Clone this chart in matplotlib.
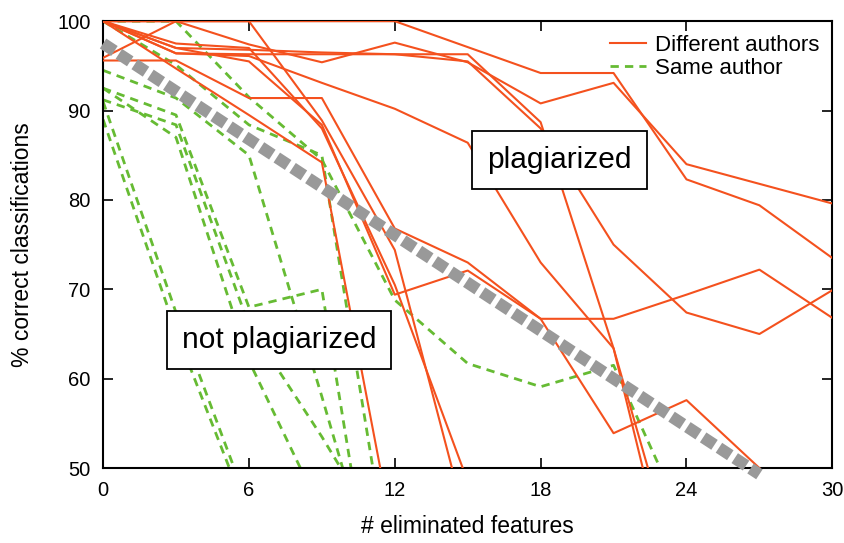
import numpy as np
import matplotlib
matplotlib.use("Agg")
import matplotlib.pyplot as plt

plt.rcParams['font.family'] = ['Liberation Sans', 'DejaVu Sans']

x_steps = [0, 3, 6, 9, 12, 15, 18, 21, 24, 27, 30]

# Different authors (values at x = 0,3,6,...; values below 50 are off-axis continuations)
diff_authors = [
    [100, 100, 100, 100, 100, 97.1, 94.2, 94.2, 82.3, 79.4, 73.5],
    [95.9, 100, 97.4, 95.4, 97.6, 95.4, 90.8, 93.1, 84.0, 81.8, 79.6],
    [100, 96.4, 96.3, 96.3, 96.3, 96.3, 88.7, 63.4, 30.0],
    [95.6, 95.6, 91.4, 91.4, 76.8, 73.0, 66.7, 66.7, 69.4, 72.2, 66.8],
    [100, 97.0, 95.5, 88.4, 69.4, 72.1, 66.7, 53.9, 57.6, 50.0, 44.0],
    [100, 94.7, 89.5, 84.2, 41.5],
    [100, 100, 100, 88.9, 74.4, 43.3],
    [100, 97.5, 97.0, 88.0, 70.5, 48.5],
    [100, 96.4, 96.1, 93.1, 90.2, 86.4, 73.0, 63.4, 35.0],
    [100, 97.0, 96.8, 96.5, 96.3, 95.5, 88.0, 75.0, 67.4, 65.0, 69.9],
]

same_author = [
    [100, 100, 91.5, 84.5, 68.8, 61.7, 59.1, 61.5, 43.5],
    [100, 95.1, 88.4, 85.0, 35.0],
    [89.0, 65.3, 44.4],
    [91.0, 67.4, 45.6],
    [92.5, 87.0, 62.0, 45.0],
    [91.2, 88.4, 66.0, 53.5, 40.0],
    [92.5, 89.5, 68.0, 70.0, 20.0],
    [94.5, 91.4, 85.0, 58.0, 30.0],
]

threshold_x = [0, 27]
threshold_y = [97.5, 49.3]

red = '#F4511E'
green = '#66BB33'

fig = plt.figure(figsize=(8.45, 5.43), dpi=100)
ax = fig.add_axes([0.122, 0.138, 0.863, 0.823])

for i, ys in enumerate(diff_authors):
    ax.plot(x_steps[:len(ys)], ys, color=red, lw=1.5,
            label='Different authors' if i == 0 else None, zorder=3)
for i, ys in enumerate(same_author):
    ax.plot(x_steps[:len(ys)], ys, color=green, lw=2.0, ls=(0, (3, 2.2)),
            label='Same author' if i == 0 else None, zorder=2)

ax.plot(threshold_x, threshold_y, color='#999999', lw=8.5, ls=(0, (1.15, 0.45)),
        solid_capstyle='butt', dash_capstyle='butt', zorder=4, clip_on=False)

ax.set_xlim(0, 30)
ax.set_ylim(50, 100)
ax.set_xticks([0, 6, 12, 18, 24, 30])
ax.set_yticks([50, 60, 70, 80, 90, 100])
ax.tick_params(direction='in', length=7, width=1.2, labelsize=14.5,
               top=True, right=True, pad=9)
for s in ax.spines.values():
    s.set_linewidth(1.5)
ax.set_xlabel('# eliminated features', fontsize=16.5, labelpad=11)
ax.set_ylabel('% correct classifications', fontsize=16.5, labelpad=17)

box = dict(boxstyle='square,pad=0.5', fc='white', ec='black', lw=1.3)
ax.text(18.77, 84.45, 'plagiarized', fontsize=21.5, ha='center', va='center',
        bbox=box, zorder=6)
ax.text(7.24, 64.3, 'not plagiarized', fontsize=21.5, ha='center', va='center',
        bbox=box, zorder=6)

leg = ax.legend(loc='upper right', frameon=False, fontsize=16, handlelength=1.6,
                borderaxespad=0.2, labelspacing=0.1, handletextpad=0.4)
leg.set_zorder(7)

fig.savefig('out.png', dpi=100)
